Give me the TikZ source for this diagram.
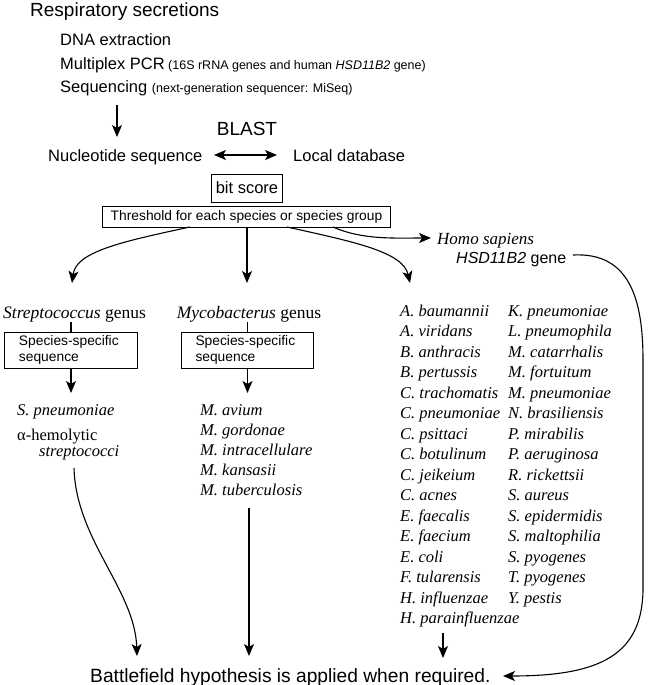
\documentclass[tikz,border=0pt]{standalone}
\usepackage{fontspec}
\setmainfont{Liberation Serif}
\setsansfont{Liberation Sans}
\usetikzlibrary{arrows.meta}
\newcommand{\fsz}[2]{\fontsize{#1bp}{#2bp}\selectfont}
\tikzset{
  tip/.tip={Stealth[length=12bp,width=10bp,inset=3bp]},
  conn/.style={line width=1.1bp, -tip},
  dconn/.style={line width=1.1bp, tip-tip},
  plain/.style={line width=1.1bp},
  lbl/.style={inner sep=0pt, anchor=base west},
  clbl/.style={inner sep=0pt, anchor=base},
  big/.style={font=\sffamily\fsz{19}{22}},
  med/.style={font=\sffamily\fsz{16.5}{19}},
  genus/.style={font=\fsz{17.5}{20}},
  spec/.style={font=\itshape\fsz{16.5}{19}},
  boxed/.style={draw, line width=1bp},
  ssbox/.style={boxed, font=\sffamily\fsz{13.8}{15.5}, text width=104bp, inner xsep=14bp, inner ysep=3bp, align=left, minimum height=36bp},
}
\begin{document}
\begin{tikzpicture}[x=1bp,y=-1bp]
\useasboundingbox (0,0) rectangle (650,685);

% top block
\node[lbl, big] (title) at (30,17) {Respiratory secretions};
\node[lbl, med] (dna) at (60,46) {DNA extraction};
\node[lbl, med] (pcr) at (60,70) {Multiplex PCR{\fsz{12.5}{15} (16S rRNA genes and human \textit{HSD11B2} gene)}};
\node[lbl, med] (seq) at (60,93) {Sequencing {\fsz{12.5}{15}(next-generation sequencer: MiSeq)}};
\coordinate (a1s) at (117,105);
\coordinate (a1e) at (117,137);
\draw[conn] (a1s) -- (a1e);

\node[clbl, big] (blast) at (247,136) {BLAST};
\node[lbl, med] (nuc) at (48,161) {Nucleotide sequence};
\node[lbl, med] (loc) at (293,161) {Local database};
\coordinate (d1) at (214,155);
\coordinate (d2) at (277,155);
\draw[dconn] (d1) -- (d2);

\node[boxed, med, inner xsep=4bp, inner ysep=0pt, minimum height=28bp] (bit) at (247,188) {bit score};
\node[boxed, font=\sffamily\fsz{13.8}{16}, minimum width=287bp, minimum height=21bp, inner sep=0pt] (thr) at (246.5,216.5) {Threshold for each species or species group};

% branches
\coordinate (b1) at (190,227);
\coordinate (b2) at (247,227);
\coordinate (b3) at (287,227);
\coordinate (b4) at (333,227);
\coordinate (t1) at (72,283);
\coordinate (t2) at (247,283);
\coordinate (t3) at (410,283);
\draw[conn] (b1) .. controls (120,242) and (76,252) .. (t1);
\draw[conn] (b2) -- (t2);
\draw[conn] (b3) .. controls (355,242) and (403,252) .. (t3);

% Homo sapiens
\node[lbl, font=\itshape\fsz{17}{20}] (homo) at (437,244) {Homo sapiens};
\node[lbl, font=\sffamily\fsz{16}{18}] (hsd) at (456,263) {\textit{HSD11B2} gene};
\coordinate (th) at (431,238);
\draw[conn] (b4) .. controls (362,240) and (395,238) .. (th);

% Streptococcus
\node[clbl, genus] (strep) at (74.5,318) {\textit{Streptococcus} genus};
\node[ssbox] (sbox) at (71,350) {Species-specific\\sequence};
\draw[plain] (sbox.north |- strep.south) -- (sbox.north);
\coordinate (st1) at (71,393);
\draw[conn] (sbox.south) -- (st1);
\node[lbl, spec] (spn) at (17,415) {S. pneumoniae};
\node[lbl, font=\fsz{16.5}{19}] (alpha) at (17,440) {α-hemolytic};
\node[lbl, spec] (strc) at (39,456) {streptococci};

% Mycobacterus
\node[clbl, genus] (myco) at (249,318) {\textit{Mycobacterus} genus};
\node[ssbox] (mbox) at (247.5,350) {Species-specific\\sequence};
\draw[plain] (mbox.north |- myco.south) -- (mbox.north);
\coordinate (mt1) at (247.5,393);
\draw[conn] (mbox.south) -- (mt1);
\foreach \s [count=\i from 0] in {M. avium, M. gordonae, M. intracellulare, M. kansasii, M. tuberculosis}
  \node[lbl, spec] (m\i) at (200,415+20*\i) {\s};

% right list
\foreach \s [count=\i from 0] in {A. baumannii, A. viridans, B. anthracis, B. pertussis, C. trachomatis, C. pneumoniae, C. psittaci, C. botulinum, C. jeikeium, C. acnes, E. faecalis, E. faecium, E. coli, F. tularensis, H. influenzae, H. parainfluenzae}
  \node[lbl, spec] (ca\i) at (400,316+20.5*\i) {\s};
\foreach \s [count=\i from 0] in {K. pneumoniae, L. pneumophila, M. catarrhalis, M. fortuitum, M. pneumoniae, N. brasiliensis, P. mirabilis, P. aeruginosa, R. rickettsii, S. aureus, S. epidermidis, S. maltophilia, S. pyogenes, T. pyogenes, Y. pestis}
  \node[lbl, spec] (cb\i) at (508,316+20.5*\i) {\s};

% bottom
\node[lbl, font=\sffamily\fsz{19.2}{22}] (bottom) at (90,682) {Battlefield hypothesis is applied when required.};

\coordinate (l0) at (74,468);
\coordinate (l1) at (137,656);
\draw[conn] (l0) .. controls (76,540) and (135,590) .. (l1);
\coordinate (mm0) at (249,508);
\coordinate (mm1) at (249,656);
\draw[conn] (mm0) -- (mm1);
\coordinate (r0) at (443,633);
\coordinate (r1) at (443,658);
\draw[conn] (r0) -- (r1);
\coordinate (h0) at (573,255);
\coordinate (h1) at (643,360);
\coordinate (h2) at (643,590);
\coordinate (h3) at (503,676);
\draw[conn] (h0) .. controls (630,252) and (643,300) .. (h1) -- (h2) .. controls (642,655) and (600,676) .. (h3);
\end{tikzpicture}
\end{document}
